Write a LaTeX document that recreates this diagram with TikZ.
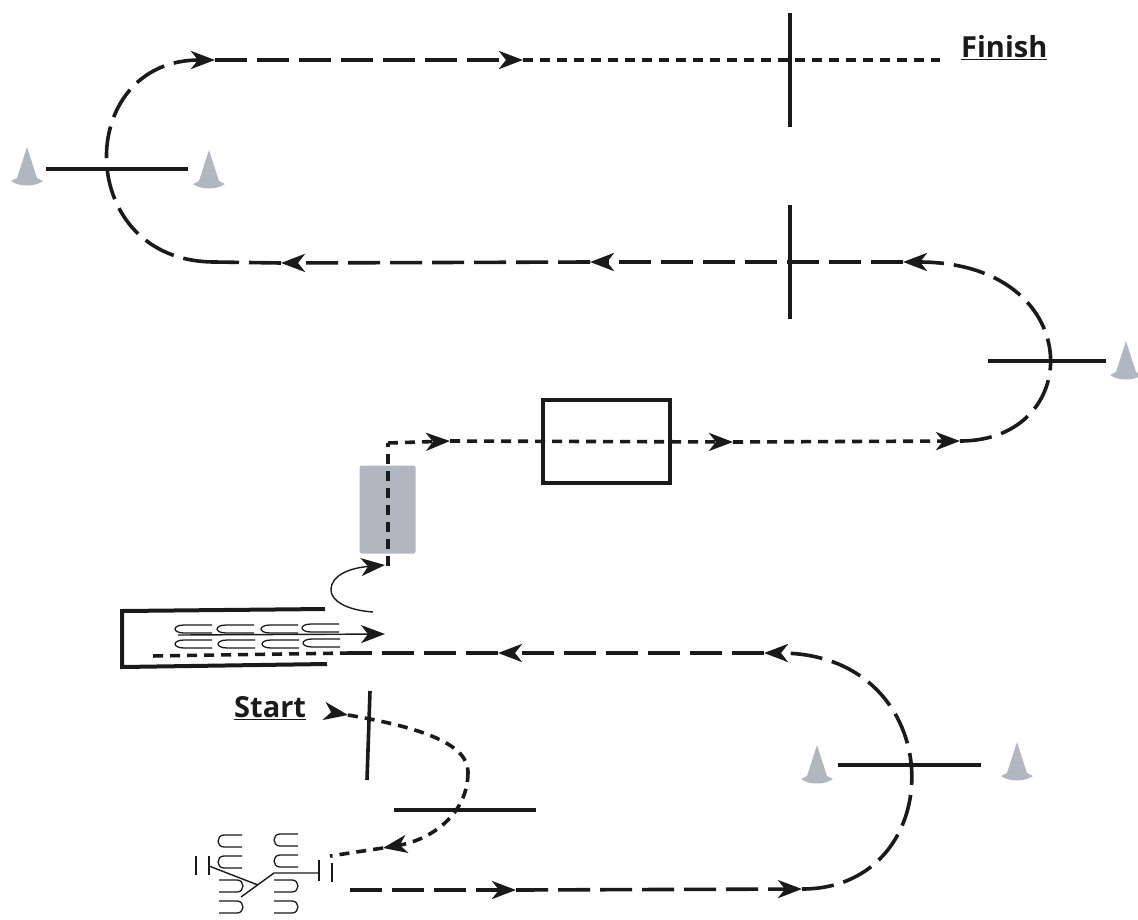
\documentclass[tikz,border=0pt]{standalone}
\usepackage{fontspec}
\setmainfont{Open Sans}
\usetikzlibrary{arrows.meta}

\definecolor{conegray}{HTML}{B0B7C0}
\definecolor{inkblack}{HTML}{1A1A1A}

\tikzset{
  tip/.style={-{Stealth[length=24pt,width=18pt,inset=7pt]}},
  longdash/.style={line width=3.6pt, inkblack, dash pattern=on 32pt off 10pt},
  shortdash/.style={line width=3.6pt, inkblack, dash pattern=on 10pt off 7pt},
  gate/.style={line width=3.6pt, inkblack},
  weave/.style={line width=1.3pt, inkblack},
  label/.style={inner sep=0pt, font=\bfseries\fontsize{29}{32}\selectfont, inkblack},
  cone/.pic={\fill[conegray] (0,0) -- (-10,31) -- (-16,34) .. controls (-8,40) and (8,40) .. (16,34) -- (10,31) -- cycle;},
  hairpin/.pic={\draw[weave] (1,-.5) -- (.25,-.5) .. controls (-.08,-.5) and (-.08,.5) .. (.25,.5) -- (1,.5);}
}

\begin{document}
\begin{tikzpicture}[x=1pt, y=-1pt]
  \useasboundingbox (0,0) rectangle (1138,919);

  % Labels
  \node[label, anchor=west] (finishlabel) at (961,48) {\underline{Finish}};
  \node[label, anchor=west] (startlabel) at (234,708) {\underline{Start}};

  % Boxes
  \node[draw=none, fill=conegray, rounded corners=2pt, minimum width=56pt, minimum height=88pt] (tunnel) at (387.5,509.5) {};
  \node[draw=inkblack, line width=3.6pt, minimum width=127pt, minimum height=83pt] (pausebox) at (606.5,441.5) {};

  % Cones
  \pic at (27,147) {cone};
  \pic at (209,150) {cone};
  \pic at (1126,341) {cone};
  \pic at (817,745) {cone};
  \pic at (1017,742) {cone};

  % Gates
  \draw[gate] (790,13) -- (790,127);
  \draw[gate] (790,205) -- (790,319);
  \draw[gate] (46,169) -- (188,169);
  \draw[gate] (988,361) -- (1106,361);
  \draw[gate] (838,765) -- (981,765);
  \draw[gate] (394,810) -- (536,810);
  \draw[gate] (370,691) -- (367,780);

  % Chute
  \draw[gate, line width=4pt] (325,609) -- (122,611) -- (122,667) -- (327,664);

  % Weave in the chute
  \pic[xscale=37,yscale=8] at (175,629) {hairpin};
  \pic[xscale=37,yscale=8] at (217,629) {hairpin};
  \pic[xscale=37,yscale=8] at (261,629) {hairpin};
  \pic[xscale=37,yscale=8] at (302,628) {hairpin};
  \pic[xscale=37,yscale=8] at (175,644) {hairpin};
  \pic[xscale=37,yscale=8] at (218,644) {hairpin};
  \pic[xscale=37,yscale=8] at (262,644) {hairpin};
  \pic[xscale=37,yscale=8] at (303,643) {hairpin};

  % Weave at the start
  \pic[xscale=24,yscale=12] at (218,841) {hairpin};
  \pic[xscale=24,yscale=12] at (218,862) {hairpin};
  \pic[xscale=24,yscale=12] at (274,840) {hairpin};
  \pic[xscale=24,yscale=12] at (274,861) {hairpin};
  \pic[xscale=-24,yscale=12] at (243,886) {hairpin};
  \pic[xscale=-24,yscale=12] at (243,907) {hairpin};
  \pic[xscale=-24,yscale=12] at (298,886) {hairpin};
  \pic[xscale=-24,yscale=12] at (298,907) {hairpin};
  \draw[line width=1.4pt, inkblack] (196,856) -- (196,875);
  \draw[line width=1.4pt, inkblack] (209,856) -- (209,875);
  \draw[line width=1.4pt, inkblack] (209,866) -- (258,885);
  \draw[line width=1.4pt, inkblack] (241,897) -- (274,873) -- (319,873);
  \draw[line width=1.4pt, inkblack] (319,860) -- (319,881);
  \draw[line width=1.4pt, inkblack] (332,863) -- (332,882);

  % Waypoints
  \coordinate (a1) at (348,715);
  \coordinate (a2) at (468,772);
  \coordinate (a3) at (383,848);
  \coordinate (a4) at (330,856);
  \coordinate (b1) at (350,890);
  \coordinate (b2) at (516,890);
  \coordinate (b3) at (802,889);
  \coordinate (b4) at (764,653);
  \coordinate (b5) at (498,653);
  \coordinate (b6) at (350,653);
  \coordinate (b7) at (150,656);
  \coordinate (c1) at (178,635);
  \coordinate (c2) at (385,634);
  \coordinate (c3) at (373,612);
  \coordinate (c4) at (385,565);
  \coordinate (d1) at (388,566);
  \coordinate (d2) at (388,443);
  \coordinate (d3) at (450,441);
  \coordinate (d4) at (733,442);
  \coordinate (d5) at (960,441);
  \coordinate (e1) at (903,262);
  \coordinate (e2) at (590,262);
  \coordinate (e3) at (281,263);
  \coordinate (e4) at (215,262);
  \coordinate (f1) at (215,60);
  \coordinate (f2) at (523,60);
  \coordinate (f3) at (940,60);

  % Route
  \draw[shortdash, tip, shorten <=25pt] (startlabel.east) -- (a1);
  \draw[shortdash] (a1) .. controls (425,728) and (468,745) .. (a2);
  \draw[shortdash, tip] (a2) .. controls (468,815) and (430,840) .. (a3);
  \draw[shortdash] (a3) -- (a4);
  \draw[longdash, tip] (b1) -- (b2);
  \draw[longdash, tip] (b2) -- (b3);
  \draw[longdash, tip] (b3) .. controls (952,889) and (952,653) .. (b4);
  \draw[longdash, tip] (b4) -- (b5);
  \draw[longdash] (b5) -- (b6);
  \draw[shortdash] (b6) -- (b7);
  \draw[line width=1.4pt, inkblack, tip] (c1) -- (c2);
  \draw[line width=1.4pt, inkblack, tip] (c3) .. controls (345,610) and (331,600) .. (331,590) .. controls (331,575) and (350,568) .. (c4);
  \draw[shortdash] (d1) -- (d2);
  \draw[shortdash, tip] (d2) -- (d3);
  \draw[shortdash, tip] (d3) -- (d4);
  \draw[shortdash, tip] (d4) -- (d5);
  \draw[longdash, tip] (d5) .. controls (1087,441) and (1087,262) .. (e1);
  \draw[longdash, tip] (e1) -- (e2);
  \draw[longdash, tip] (e2) -- (e3);
  \draw[longdash] (e3) -- (e4);
  \draw[longdash, tip] (e4) .. controls (73,262) and (73,60) .. (f1);
  \draw[longdash, tip] (f1) -- (f2);
  \draw[shortdash] (f2) -- (f3);
\end{tikzpicture}
\end{document}
